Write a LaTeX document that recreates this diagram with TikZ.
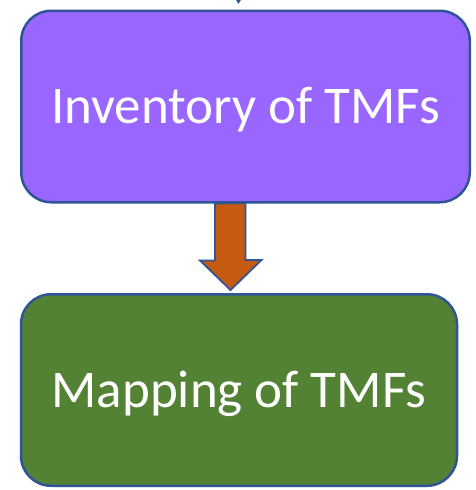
\documentclass[tikz,border=0pt]{standalone}
\usepackage{fontspec}
\setmainfont{Carlito}
\usetikzlibrary{arrows.meta}
\definecolor{boxline}{HTML}{2F5597}
\definecolor{invfill}{HTML}{9966FF}
\definecolor{mapfill}{HTML}{548235}
\definecolor{arrfill}{HTML}{C55A11}
\begin{document}
\begin{tikzpicture}[x=1pt,y=-1pt]
  \useasboundingbox[fill=white] (0,0) rectangle (476,490);
  \tikzstyle{BoxStyle}=[draw=boxline,line width=2.5pt,rounded corners=30pt,
    inner sep=0pt,text=white,font=\fontsize{53}{60}\selectfont,
    text height=34pt,text depth=0pt]
  \node[BoxStyle,fill=invfill,minimum width=448.5pt,minimum height=191.5pt]
    (Inv) at (245.5,106.5) {Inventory of TMFs};
  \node[BoxStyle,fill=mapfill,minimum width=436pt,minimum height=191.5pt]
    (Map) at (239,390) {Mapping of TMFs};
  % incoming arrow from above
  \coordinate (Top) at (238.5,-20);
  \coordinate (TopEnd) at (238.5,4);
  \draw[boxline,line width=2pt,-{Triangle[length=8pt,width=9pt]}] (Top) -- (TopEnd);
  % block arrow between the boxes
  \coordinate (ArrTop) at (Inv.south -| 230,0);
  \coordinate (ArrTip) at (230.5,290);
  \draw[boxline,line width=1.8pt,fill=arrfill,line join=miter]
    (ArrTop) ++(-15,0) -- ++(0,57) -- ++(-15,0) -- (ArrTip)
    -- ++(31,-30) -- ++(-16,0) -- ++(0,-57) -- cycle;
\end{tikzpicture}
\end{document}
